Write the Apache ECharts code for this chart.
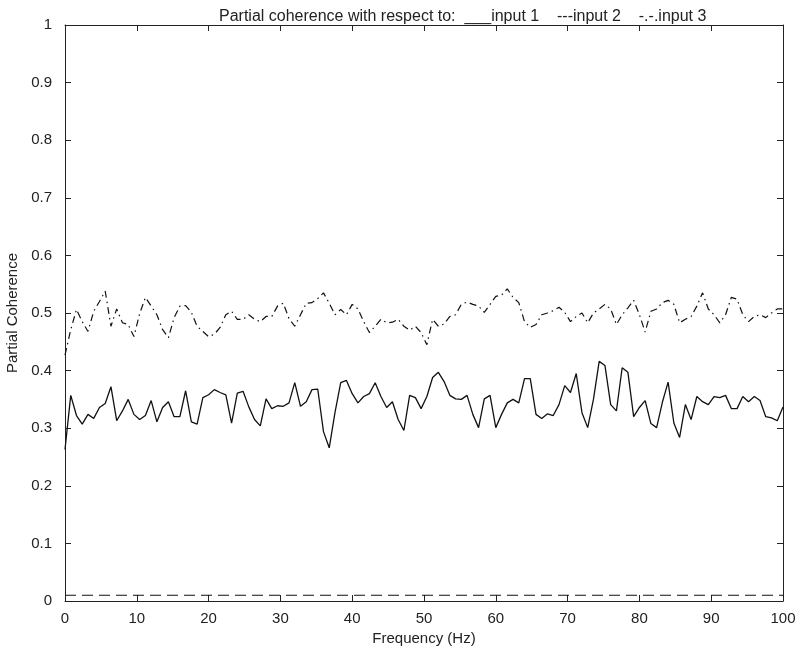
<!DOCTYPE html>
<html>
<head>
<meta charset="utf-8">
<script src="https://cdn.jsdelivr.net/npm/echarts@6/dist/echarts.min.js"></script>
<style>
  html, body { margin: 0; padding: 0; background: #fff; }
  #chart { width: 801px; height: 655px; }
</style>
</head>
<body>
<div id="chart"></div>
<script>
// frequency resolution of the estimate (Hz between points)
const freqStep = 0.8;

// partial coherence w.r.t. input 1 (solid)
const input1 = [
  0.263, 0.357, 0.322, 0.307, 0.324, 0.317, 0.336, 0.343, 0.372, 0.313,
  0.330, 0.350, 0.324, 0.315, 0.322, 0.348, 0.311, 0.336, 0.346, 0.320,
  0.320, 0.365, 0.311, 0.307, 0.353, 0.358, 0.367, 0.362, 0.358, 0.309,
  0.361, 0.364, 0.337, 0.315, 0.304, 0.351, 0.334, 0.339, 0.338, 0.344,
  0.379, 0.338, 0.346, 0.367, 0.368, 0.294, 0.266, 0.327, 0.379, 0.383,
  0.360, 0.344, 0.355, 0.360, 0.379, 0.355, 0.336, 0.346, 0.315, 0.296,
  0.357, 0.353, 0.334, 0.355, 0.388, 0.397, 0.381, 0.357, 0.351, 0.350,
  0.357, 0.324, 0.301, 0.351, 0.357, 0.301, 0.324, 0.344, 0.350, 0.344,
  0.386, 0.386, 0.324, 0.317, 0.325, 0.322, 0.341, 0.374, 0.362, 0.395,
  0.327, 0.301, 0.350, 0.416, 0.409, 0.341, 0.330, 0.405, 0.397, 0.320,
  0.336, 0.348, 0.308, 0.301, 0.345, 0.380, 0.309, 0.284, 0.341, 0.315,
  0.355, 0.346, 0.341, 0.355, 0.353, 0.357, 0.334, 0.334, 0.355, 0.346,
  0.355, 0.348, 0.320, 0.318, 0.313, 0.337
];

// w.r.t. input 2 (dashed) - sits just above zero
const input2 = [
  0.010, 0.010, 0.010, 0.010, 0.010, 0.010, 0.010, 0.010, 0.010, 0.010,
  0.010, 0.010, 0.010, 0.010, 0.010, 0.010, 0.010, 0.010, 0.010, 0.010,
  0.010, 0.010, 0.010, 0.010, 0.010, 0.010, 0.010, 0.010, 0.010, 0.010,
  0.010, 0.010, 0.010, 0.010, 0.010, 0.010, 0.010, 0.010, 0.010, 0.010,
  0.010, 0.010, 0.010, 0.010, 0.010, 0.010, 0.010, 0.010, 0.010, 0.010,
  0.010, 0.010, 0.010, 0.010, 0.010, 0.010, 0.010, 0.010, 0.010, 0.010,
  0.010, 0.010, 0.010, 0.010, 0.010, 0.010, 0.010, 0.010, 0.010, 0.010,
  0.010, 0.010, 0.010, 0.010, 0.010, 0.010, 0.010, 0.010, 0.010, 0.010,
  0.010, 0.010, 0.010, 0.010, 0.010, 0.010, 0.010, 0.010, 0.010, 0.010,
  0.010, 0.010, 0.010, 0.010, 0.010, 0.010, 0.010, 0.010, 0.010, 0.010,
  0.010, 0.010, 0.010, 0.010, 0.010, 0.010, 0.010, 0.010, 0.010, 0.010,
  0.010, 0.010, 0.010, 0.010, 0.010, 0.010, 0.010, 0.010, 0.010, 0.010,
  0.010, 0.010, 0.010, 0.010, 0.010, 0.010
];

// w.r.t. input 3 (dash-dot)
const input3 = [
  0.427, 0.471, 0.506, 0.485, 0.468, 0.503, 0.520, 0.538, 0.477, 0.507,
  0.483, 0.480, 0.459, 0.499, 0.527, 0.512, 0.497, 0.471, 0.457, 0.492,
  0.512, 0.513, 0.501, 0.477, 0.468, 0.459, 0.463, 0.475, 0.497, 0.503,
  0.489, 0.489, 0.497, 0.489, 0.485, 0.494, 0.494, 0.512, 0.517, 0.490,
  0.477, 0.497, 0.517, 0.518, 0.525, 0.535, 0.517, 0.497, 0.506, 0.497,
  0.515, 0.507, 0.485, 0.466, 0.477, 0.489, 0.483, 0.484, 0.489, 0.477,
  0.470, 0.477, 0.466, 0.445, 0.489, 0.477, 0.481, 0.494, 0.497, 0.515,
  0.519, 0.515, 0.512, 0.501, 0.515, 0.529, 0.531, 0.542, 0.527, 0.518,
  0.485, 0.475, 0.480, 0.497, 0.500, 0.504, 0.510, 0.501, 0.485, 0.494,
  0.500, 0.483, 0.500, 0.507, 0.515, 0.507, 0.480, 0.497, 0.509, 0.522,
  0.497, 0.467, 0.503, 0.507, 0.518, 0.522, 0.515, 0.483, 0.489, 0.494,
  0.512, 0.535, 0.507, 0.497, 0.483, 0.497, 0.527, 0.524, 0.497, 0.485,
  0.494, 0.497, 0.492, 0.500, 0.507, 0.507
];

const titleText = "Partial coherence with respect to:  ___input 1    ---input 2    -.-.input 3";
const fontFam = "Liberation Sans, Arial, sans-serif";

function pairs(arr) {
  return arr.map((v, i) => [i * freqStep, v]);
}

const myChart = echarts.init(document.getElementById("chart"));

// box round the plot: all four sides, ticks pointing in
const axisLine = { show: true, onZero: false, lineStyle: { color: "#222", width: 1 } };
const tick = { show: true, inside: true, length: 6, lineStyle: { color: "#222" } };

const option = {
  animation: false,
  backgroundColor: "#fff",
  title: {
    text: titleText,
    left: 214,
    top: 4,
    textStyle: { fontFamily: fontFam, fontSize: 16, fontWeight: "normal", color: "#222" },
  },
  grid: { left: 65, right: 18, top: 25, bottom: 54, outerBoundsMode: "none" },
  xAxis: [
    {
      type: "value",
      min: 0,
      max: 100,
      interval: 10,
      name: "Frequency (Hz)",
      nameLocation: "middle",
      nameGap: 21,
      nameTextStyle: { fontFamily: fontFam, fontSize: 15, color: "#222" },
      axisLine: axisLine,
      axisTick: tick,
      axisLabel: { fontFamily: fontFam, fontSize: 15, color: "#222", margin: 10 },
      splitLine: { show: false },
    },
    {
      type: "value",
      position: "top",
      min: 0,
      max: 100,
      interval: 10,
      axisLine: axisLine,
      axisTick: tick,
      axisLabel: { show: false },
      splitLine: { show: false },
    },
  ],
  yAxis: [
    {
      type: "value",
      min: 0,
      max: 1,
      interval: 0.1,
      name: "Partial Coherence",
      nameLocation: "middle",
      nameGap: 36,
      nameTextStyle: { fontFamily: fontFam, fontSize: 15, color: "#222" },
      axisLine: axisLine,
      axisTick: tick,
      axisLabel: {
        fontFamily: fontFam,
        fontSize: 15,
        color: "#222",
        margin: 13,
        formatter: (v) => (v === 0 ? "0" : v === 1 ? "1" : v.toFixed(1)),
      },
      splitLine: { show: false },
    },
    {
      type: "value",
      position: "right",
      min: 0,
      max: 1,
      interval: 0.1,
      axisLine: axisLine,
      axisTick: tick,
      axisLabel: { show: false },
      splitLine: { show: false },
    },
  ],
  series: [
    {
      name: "input 1",
      type: "line",
      data: pairs(input1),
      symbol: "none",
      lineStyle: { color: "#111", width: 1.3, type: "solid" },
    },
    {
      name: "input 2",
      type: "line",
      data: pairs(input2),
      symbol: "none",
      lineStyle: { color: "#111", width: 1.2, type: [11, 6] },
    },
    {
      name: "input 3",
      type: "line",
      data: pairs(input3),
      symbol: "none",
      lineStyle: { color: "#111", width: 1.2, type: [7, 4, 1.5, 4] },
    },
  ],
};

myChart.setOption(option);
window.onresize = myChart.resize;
</script>
</body>
</html>
